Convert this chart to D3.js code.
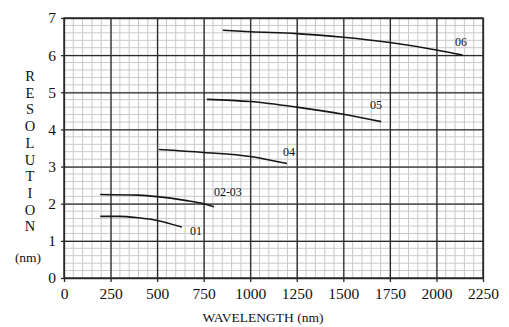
<!DOCTYPE html>
<html>
<head>
<meta charset="utf-8">
<script src="https://cdn.jsdelivr.net/npm/d3@7"></script>
<style>
body { margin: 0; background: #fff; }
text { font-family: "Liberation Serif", "Times New Roman", serif; fill: #111; }
</style>
</head>
<body>
<svg id="canvas" width="509" height="327"></svg>
<script>
// values
var xTicks = [0, 250, 500, 750, 1000, 1250, 1500, 1750, 2000, 2250];
var yTicks = [0, 1, 2, 3, 4, 5, 6, 7];

var s01 = [[195, 1.66], [300, 1.66], [400, 1.62], [500, 1.55], [633, 1.37]];
var s0203 = [[194, 2.25], [400, 2.23], [500, 2.19], [650, 2.09], [750, 2.0], [805, 1.92]];
var s04 = [[509, 3.46], [750, 3.38], [1000, 3.27], [1197, 3.08]];
var s05 = [[767, 4.81], [1000, 4.75], [1250, 4.60], [1500, 4.41], [1703, 4.21]];
var s06 = [[853, 6.67], [1000, 6.63], [1250, 6.58], [1500, 6.48], [1750, 6.34], [2000, 6.14], [2140, 6.0]];

var seriesNames = ["01", "02-03", "04", "05", "06"];
var labelPos = [[709, 1.24], [880, 2.28], [1208, 3.36], [1675, 4.63], [2132, 6.33]];

var yTitle = "RESOLUTION";

var svg = d3.select("#canvas");
var x = d3.scaleLinear().domain([0, 2250]).range([64, 483]);
var y = d3.scaleLinear().domain([0, 7]).range([278, 18]);

// minor grid
svg.append("g")
	.selectAll("line")
	.data(d3.range(0, 2251, 50))
	.enter().append("line")
	.attr("x1", d => x(d)).attr("x2", d => x(d))
	.attr("y1", y(0)).attr("y2", y(7))
	.attr("stroke", "#c8c8c8").attr("stroke-width", 1);

svg.append("g")
	.selectAll("line")
	.data(d3.range(0, 35.5, 1).map(d => d / 5))
	.enter().append("line")
	.attr("y1", d => y(d)).attr("y2", d => y(d))
	.attr("x1", x(0)).attr("x2", x(2250))
	.attr("stroke", "#c8c8c8").attr("stroke-width", 1);

// major grid + axes
var xAxis = d3.axisBottom(x).tickValues(xTicks).tickFormat(d3.format("d"))
	.tickSize(-(y(0) - y(7))).tickPadding(10);
var yAxis = d3.axisLeft(y).tickValues(yTicks).tickFormat(d3.format("d"))
	.tickSize(-(x(2250) - x(0))).tickPadding(8);

var gx = svg.append("g").attr("transform", "translate(0," + y(0) + ")").call(xAxis);
var gy = svg.append("g").attr("transform", "translate(" + x(0) + ",0)").call(yAxis);

[gx, gy].forEach(function(g) {
	g.select(".domain").remove();
	g.selectAll(".tick line").attr("stroke", "#2a2a2a").attr("stroke-width", 1.3);
	g.selectAll(".tick text")
		.attr("font-family", "Liberation Serif, serif")
		.attr("font-size", 15.5)
		.attr("fill", "#111");
});

// little outside ticks
gx.selectAll(".tick").append("line").attr("y1", 0).attr("y2", 4).attr("stroke", "#2a2a2a").attr("stroke-width", 1.3);
gy.selectAll(".tick").append("line").attr("x1", 0).attr("x2", -3).attr("stroke", "#2a2a2a").attr("stroke-width", 1.3);

// frame
svg.append("rect")
	.attr("x", x(0)).attr("y", y(7))
	.attr("width", x(2250) - x(0)).attr("height", y(0) - y(7))
	.attr("fill", "none").attr("stroke", "#2a2a2a").attr("stroke-width", 1.4);

// curves
var line = d3.line()
	.x(d => x(d[0]))
	.y(d => y(d[1]))
	.curve(d3.curveMonotoneX);

svg.append("g")
	.selectAll("path")
	.data([s01, s0203, s04, s05, s06])
	.enter().append("path")
	.attr("d", line)
	.attr("fill", "none")
	.attr("stroke", "#151515")
	.attr("stroke-width", 1.6);

// curve labels
svg.append("g")
	.selectAll("text")
	.data(seriesNames)
	.enter().append("text")
	.attr("x", (d, i) => x(labelPos[i][0]))
	.attr("y", (d, i) => y(labelPos[i][1]))
	.attr("text-anchor", "middle")
	.attr("dominant-baseline", "middle")
	.attr("font-size", 12)
	.text(d => d);

// stacked y title
svg.append("g")
	.selectAll("text")
	.data(yTitle.split(""))
	.enter().append("text")
	.attr("x", 30)
	.attr("y", (d, i) => 81 + i * 16.7)
	.attr("text-anchor", "middle")
	.attr("font-size", 14.5)
	.text(d => d);

svg.append("text")
	.attr("x", 28).attr("y", 262)
	.attr("text-anchor", "middle")
	.attr("font-size", 13.5)
	.text("(nm)");

svg.append("text")
	.attr("x", 263).attr("y", 322)
	.attr("text-anchor", "middle")
	.attr("font-size", 13.5)
	.text("WAVELENGTH (nm)");
</script>
</body>
</html>
